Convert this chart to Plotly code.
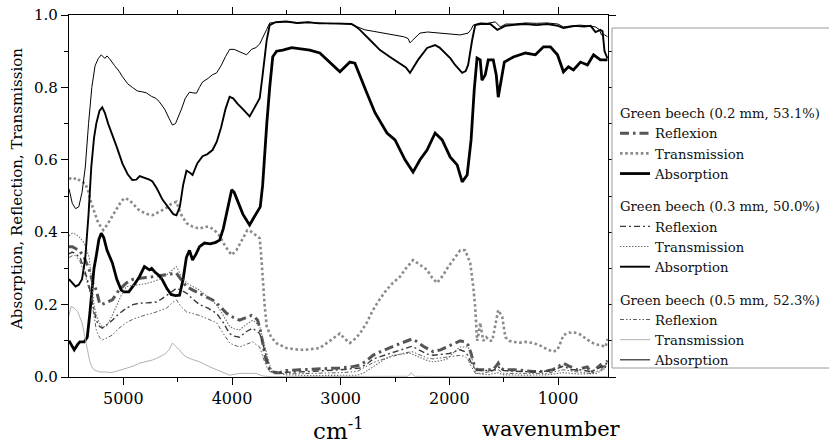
import plotly.graph_objects as go

# ---------------- data ----------------
# 0.2 mm
wn_r02 = [5500,5470,5440,5406,5360,5314,5280,5249,5220,5203,5160,5101,5040,4972,4910,4852,4790,4732,4670,4603,4550,4511,4470,4419,4360,4299,4240,4179,4110,4050,3990,3930,3870,3820,3790,3764,3740,3718,3690,3653,3600,3560,3500,3376,3200,3007,2900,2823,2760,2703,2620,2520,2430,2343,2300,2240,2150,2080,2020,1960,1900,1860,1827,1800,1780,1745,1700,1650,1600,1570,1550,1530,1500,1400,1300,1227,1140,1050,1000,950,900,820,770,730,700,660,610,580,560,545]
r02 = [0.36,0.36,0.355,0.35,0.33,0.296,0.26,0.24,0.205,0.20,0.205,0.213,0.24,0.26,0.27,0.273,0.275,0.277,0.28,0.282,0.285,0.287,0.27,0.25,0.24,0.232,0.222,0.213,0.195,0.176,0.165,0.157,0.165,0.17,0.165,0.157,0.13,0.094,0.05,0.02,0.012,0.012,0.018,0.02,0.022,0.025,0.028,0.033,0.045,0.06,0.072,0.083,0.095,0.105,0.098,0.085,0.07,0.075,0.083,0.093,0.10,0.097,0.088,0.065,0.04,0.02,0.02,0.022,0.02,0.03,0.038,0.025,0.02,0.02,0.017,0.015,0.015,0.02,0.028,0.038,0.03,0.02,0.025,0.028,0.012,0.02,0.033,0.02,0.04,0.045]

wn_t02 = [5500,5470,5430,5390,5350,5320,5295,5260,5230,5185,5150,5110,5060,5020,4990,4950,4900,4852,4825,4780,4732,4680,4640,4603,4560,4511,4470,4419,4360,4299,4250,4207,4160,4114,4060,4003,3960,3900,3860,3838,3800,3770,3745,3730,3718,3700,3681,3640,3588,3500,3376,3300,3192,3100,3050,3007,2960,2915,2870,2823,2760,2703,2640,2580,2520,2454,2400,2334,2270,2205,2160,2113,2060,2020,1960,1900,1855,1808,1780,1762,1745,1730,1716,1700,1688,1660,1630,1605,1570,1550,1530,1513,1485,1450,1411,1350,1300,1227,1150,1090,1042,1005,970,950,900,858,800,766,700,650,610,563,550,545]
t02 = [0.55,0.545,0.55,0.54,0.535,0.51,0.48,0.45,0.425,0.406,0.42,0.44,0.465,0.485,0.494,0.49,0.475,0.46,0.456,0.45,0.447,0.455,0.46,0.467,0.478,0.484,0.45,0.425,0.415,0.41,0.415,0.415,0.405,0.39,0.36,0.337,0.35,0.385,0.405,0.405,0.395,0.39,0.383,0.33,0.268,0.2,0.14,0.11,0.093,0.08,0.075,0.076,0.08,0.10,0.11,0.12,0.105,0.094,0.105,0.12,0.15,0.185,0.215,0.24,0.26,0.277,0.30,0.323,0.31,0.296,0.275,0.26,0.28,0.30,0.325,0.35,0.35,0.315,0.25,0.193,0.10,0.12,0.15,0.12,0.10,0.11,0.10,0.10,0.15,0.185,0.175,0.166,0.11,0.10,0.097,0.095,0.097,0.094,0.085,0.075,0.07,0.075,0.10,0.116,0.122,0.124,0.118,0.11,0.097,0.09,0.088,0.083,0.10,0.105]

wn_a02 = [5500,5475,5452,5420,5400,5360,5332,5310,5290,5270,5249,5225,5203,5180,5150,5101,5060,5020,4991,4950,4900,4852,4806,4780,4760,4740,4710,4670,4640,4600,4560,4520,4483,4450,4420,4391,4363,4330,4299,4253,4200,4150,4114,4080,4040,4003,3980,3940,3900,3860,3838,3800,3764,3740,3718,3699,3680,3653,3625,3590,3533,3450,3376,3284,3192,3100,3007,2960,2915,2869,2823,2760,2684,2574,2500,2408,2334,2270,2205,2131,2066,1993,1928,1882,1836,1800,1771,1745,1716,1700,1670,1642,1596,1568,1550,1522,1494,1411,1300,1208,1134,1070,1005,950,904,858,793,729,673,610,545]
a02 = [0.10,0.085,0.075,0.09,0.097,0.097,0.11,0.17,0.24,0.30,0.335,0.38,0.397,0.385,0.35,0.315,0.27,0.24,0.235,0.235,0.255,0.277,0.305,0.30,0.296,0.30,0.29,0.28,0.268,0.245,0.228,0.225,0.226,0.27,0.33,0.35,0.323,0.34,0.36,0.37,0.368,0.372,0.378,0.41,0.47,0.517,0.51,0.48,0.45,0.43,0.42,0.44,0.46,0.47,0.53,0.62,0.70,0.80,0.885,0.90,0.903,0.91,0.906,0.903,0.895,0.87,0.843,0.857,0.87,0.867,0.83,0.785,0.73,0.674,0.655,0.60,0.566,0.60,0.627,0.674,0.655,0.608,0.586,0.539,0.558,0.655,0.793,0.881,0.876,0.82,0.834,0.876,0.876,0.834,0.773,0.82,0.87,0.884,0.895,0.89,0.912,0.912,0.89,0.843,0.857,0.848,0.87,0.862,0.89,0.876,0.876]

# 0.3 mm
wn_r03 = [5500,5470,5440,5400,5360,5314,5280,5249,5220,5194,5150,5101,5040,4972,4910,4852,4770,4696,4650,4603,4550,4511,4470,4419,4360,4299,4220,4142,4080,4022,3980,3930,3870,3810,3780,3745,3710,3681,3650,3635,3500,3300,3100,3000,2823,2750,2700,2600,2500,2420,2343,2280,2200,2150,2080,2000,1950,1900,1860,1830,1800,1760,1700,1600,1550,1500,1400,1200,1050,950,880,800,700,620,560,545]
r03 = [0.34,0.345,0.34,0.33,0.30,0.25,0.20,0.157,0.14,0.135,0.145,0.157,0.175,0.19,0.20,0.204,0.205,0.207,0.215,0.226,0.237,0.245,0.24,0.232,0.215,0.20,0.19,0.176,0.15,0.12,0.113,0.11,0.125,0.135,0.128,0.12,0.085,0.055,0.02,0.014,0.013,0.015,0.018,0.02,0.025,0.038,0.05,0.06,0.07,0.078,0.085,0.075,0.063,0.06,0.062,0.065,0.07,0.075,0.07,0.06,0.04,0.02,0.018,0.018,0.028,0.018,0.016,0.014,0.018,0.03,0.02,0.02,0.015,0.025,0.035,0.04]

wn_t03 = [5500,5472,5440,5400,5360,5314,5290,5268,5240,5222,5190,5157,5110,5065,5020,4972,4910,4852,4790,4732,4670,4603,4550,4511,4470,4419,4360,4299,4220,4142,4080,4022,3980,3930,3870,3810,3780,3745,3710,3681,3650,3625,3500,3300,3000,2850,2795,2720,2638,2580,2520,2440,2362,2280,2200,2150,2080,2020,1960,1900,1827,1800,1780,1760,1745,1650,1550,1500,1300,1100,950,800,650,580,560,545]
t03 = [0.39,0.397,0.395,0.385,0.37,0.33,0.26,0.194,0.165,0.15,0.138,0.14,0.165,0.194,0.225,0.25,0.253,0.255,0.258,0.263,0.27,0.282,0.295,0.305,0.28,0.26,0.25,0.24,0.22,0.20,0.17,0.14,0.133,0.13,0.145,0.157,0.15,0.14,0.10,0.066,0.03,0.014,0.006,0.004,0.004,0.005,0.01,0.025,0.042,0.052,0.06,0.064,0.066,0.055,0.045,0.042,0.045,0.05,0.068,0.083,0.083,0.06,0.04,0.015,0.01,0.006,0.012,0.006,0.005,0.006,0.012,0.008,0.01,0.02,0.04,0.045]

wn_a03 = [5500,5470,5440,5410,5380,5350,5320,5295,5270,5249,5220,5194,5170,5140,5101,5060,5009,4960,4917,4880,4850,4800,4760,4732,4690,4640,4580,4540,4511,4480,4450,4419,4390,4363,4320,4271,4230,4179,4140,4100,4060,4022,3990,3950,3900,3838,3800,3770,3745,3720,3700,3681,3653,3600,3500,3400,3300,3200,3100,3000,2900,2870,2823,2730,2638,2546,2454,2400,2362,2330,2288,2205,2131,2090,2039,1990,1947,1910,1882,1850,1827,1790,1762,1716,1623,1559,1485,1400,1300,1200,1100,1000,950,840,760,700,655,610,590,572,545]
a03 = [0.27,0.26,0.25,0.255,0.27,0.33,0.45,0.58,0.66,0.70,0.735,0.745,0.73,0.70,0.67,0.635,0.59,0.56,0.544,0.545,0.555,0.55,0.545,0.54,0.52,0.49,0.465,0.45,0.447,0.47,0.53,0.57,0.565,0.558,0.59,0.61,0.615,0.627,0.65,0.69,0.74,0.774,0.77,0.755,0.74,0.72,0.74,0.755,0.77,0.83,0.89,0.93,0.972,0.98,0.982,0.978,0.98,0.977,0.977,0.975,0.975,0.97,0.959,0.931,0.903,0.884,0.867,0.855,0.84,0.855,0.876,0.909,0.917,0.91,0.895,0.88,0.862,0.85,0.84,0.845,0.862,0.931,0.972,0.975,0.975,0.959,0.97,0.973,0.975,0.972,0.975,0.97,0.964,0.97,0.968,0.97,0.953,0.959,0.955,0.90,0.88]

# 0.5 mm
wn_r05 = [5500,5470,5440,5400,5350,5295,5270,5249,5220,5194,5150,5101,5040,4972,4910,4852,4790,4732,4670,4603,4550,4511,4470,4419,4360,4299,4220,4142,4080,4022,3980,3930,3870,3810,3780,3745,3710,3681,3650,3600,3400,3200,3000,2850,2760,2700,2600,2500,2420,2343,2280,2200,2150,2050,1950,1900,1860,1830,1800,1760,1700,1550,1500,1300,1100,950,850,700,600,545]
r05 = [0.33,0.335,0.335,0.32,0.28,0.22,0.17,0.13,0.11,0.102,0.108,0.116,0.135,0.15,0.16,0.166,0.172,0.176,0.182,0.19,0.205,0.213,0.195,0.18,0.175,0.17,0.16,0.15,0.12,0.094,0.088,0.083,0.09,0.097,0.09,0.083,0.05,0.028,0.014,0.01,0.009,0.01,0.012,0.015,0.03,0.04,0.05,0.06,0.066,0.07,0.062,0.052,0.05,0.053,0.058,0.06,0.057,0.05,0.03,0.01,0.01,0.02,0.01,0.01,0.01,0.02,0.015,0.01,0.02,0.03]

wn_t05 = [5500,5480,5450,5420,5380,5350,5330,5310,5290,5270,5222,5160,5120,5060,5020,4972,4910,4852,4790,4732,4670,4620,4580,4548,4520,4483,4450,4419,4360,4299,4220,4142,4080,4022,3970,3930,3850,3780,3718,3650,3400,2500,2380,2350,2320,2000,1000,545]
t05 = [0.17,0.195,0.19,0.18,0.15,0.11,0.075,0.045,0.028,0.02,0.014,0.014,0.012,0.016,0.02,0.025,0.03,0.038,0.043,0.047,0.055,0.063,0.075,0.094,0.085,0.075,0.062,0.055,0.048,0.042,0.03,0.02,0.012,0.005,0.008,0.01,0.01,0.01,0.003,0.001,0.001,0.001,0.002,0.012,0.002,0.001,0.001,0.001]

wn_a05 = [5500,5470,5440,5410,5380,5350,5320,5290,5260,5230,5203,5170,5150,5129,5080,5040,5009,4960,4917,4870,4830,4788,4740,4700,4668,4620,4580,4548,4520,4490,4465,4430,4391,4360,4327,4300,4271,4220,4180,4142,4100,4060,4022,3980,3940,3900,3866,3820,3780,3745,3710,3681,3653,3600,3500,3400,3300,3200,3100,3000,2900,2869,2777,2700,2601,2500,2420,2380,2362,2340,2316,2270,2200,2085,2000,1900,1827,1800,1780,1716,1650,1577,1531,1480,1400,1300,1200,1100,1000,950,880,800,720,655,620,600,570,545]
a05 = [0.52,0.48,0.465,0.47,0.51,0.58,0.70,0.80,0.86,0.88,0.89,0.88,0.887,0.88,0.86,0.845,0.83,0.81,0.80,0.79,0.788,0.785,0.775,0.77,0.76,0.74,0.715,0.696,0.70,0.72,0.74,0.77,0.787,0.785,0.784,0.80,0.815,0.825,0.835,0.84,0.86,0.885,0.905,0.905,0.90,0.895,0.89,0.905,0.91,0.92,0.94,0.96,0.978,0.98,0.982,0.978,0.98,0.978,0.976,0.977,0.975,0.97,0.959,0.955,0.95,0.945,0.94,0.935,0.923,0.93,0.936,0.95,0.953,0.95,0.948,0.945,0.95,0.96,0.972,0.978,0.977,0.981,0.967,0.975,0.975,0.978,0.977,0.978,0.975,0.967,0.97,0.972,0.97,0.967,0.96,0.945,0.945,0.94]

group_titles = ["Green beech (0.2 mm, 53.1%)", "Green beech (0.3 mm, 50.0%)", "Green beech (0.5 mm, 52.3%)"]
item_names = ["Reflexion", "Transmission", "Absorption"]
x_ticks = [5000, 4000, 3000, 2000, 1000]

FONT = "DejaVu Serif"
LEG_SIZE = 13.2

series = [
    # group, name, x, y, color, width, dash
    (0, 0, wn_r02, r02, "#555555", 3.0, "9px,4px,2.5px,4px"),
    (0, 1, wn_t02, t02, "#8a8a8a", 2.6, "2.6px,2.6px"),
    (0, 2, wn_a02, a02, "#000000", 2.8, "solid"),
    (1, 0, wn_r03, r03, "#3a3a3a", 1.4, "6px,3px,2px,3px"),
    (1, 1, wn_t03, t03, "#6e6e6e", 1.1, "1.5px,1.5px"),
    (1, 2, wn_a03, a03, "#000000", 1.9, "solid"),
    (2, 0, wn_r05, r05, "#4a4a4a", 0.9, "4px,2px,1.5px,2px,1.5px,2px"),
    (2, 1, wn_t05, t05, "#a8a8a8", 0.9, "solid"),
    (2, 2, wn_a05, a05, "#000000", 1.0, "solid"),
]

fig = go.Figure()
for g, n, xs, ys, col, w, d in series:
    fig.add_trace(go.Scatter(
        x=xs, y=ys, mode="lines", name=item_names[n],
        line=dict(color=col, width=w, dash=d),
        legendgroup=f"g{g}",
        legendgrouptitle=dict(text=group_titles[g], font=dict(family=FONT, size=LEG_SIZE, color="#111")),
        showlegend=True,
    ))

L, R, T, B = 69, 608, 15, 377
W, H = 829, 444

def px_x(p):
    return (p - L) / (R - L)

def px_y(p):
    return (B - p) / (B - T)

fig.update_layout(
    width=W, height=H,
    margin=dict(l=L, r=W - R, t=T, b=H - B, pad=0, autoexpand=False),
    paper_bgcolor="white", plot_bgcolor="white",
    font=dict(family=FONT, size=15, color="black"),
    legend=dict(
        x=px_x(615), y=px_y(98), xanchor="left", yanchor="top",
        bgcolor="rgba(0,0,0,0)", borderwidth=0,
        font=dict(family=FONT, size=LEG_SIZE, color="#111"),
        traceorder="grouped", tracegroupgap=12.5,
        itemwidth=30,
    ),
    xaxis=dict(
        range=[5500, 540], showgrid=False, zeroline=False,
        tickmode="array", tickvals=x_ticks, ticktext=[str(v) for v in x_ticks],
        ticks="outside", ticklen=7, tickwidth=1.2, tickcolor="black",
        showline=True, linecolor="black", linewidth=1.3, mirror="allticks",
        tickfont=dict(family=FONT, size=16),
        minor=dict(tickmode="array", tickvals=[4500, 3500, 2500, 1500], ticks="outside", ticklen=4, tickwidth=1.1, tickcolor="black"),
    ),
    yaxis=dict(
        range=[0, 1.0], showgrid=False, zeroline=False,
        tick0=0, dtick=0.2, tickformat=".1f",
        ticks="outside", ticklen=7, tickwidth=1.2, tickcolor="black",
        showline=True, linecolor="black", linewidth=1.3, mirror="allticks",
        tickfont=dict(family=FONT, size=15),
        minor=dict(dtick=0.1, ticks="outside", ticklen=4, tickwidth=1.1, tickcolor="black"),
    ),
    shapes=[dict(
        type="rect", xref="paper", yref="paper", layer="above",
        x0=px_x(612), x1=px_x(840), y0=px_y(368), y1=px_y(28),
        line=dict(color="#9a9a9a", width=1), fillcolor="white",
    )],
    annotations=[
        dict(text="Absorption, Reflection, Transmission", textangle=-90,
             xref="paper", yref="paper", x=px_x(17), y=px_y(189),
             xanchor="center", yanchor="middle", showarrow=False,
             font=dict(family=FONT, size=15, color="black")),
        dict(text="cm<sup>-1</sup>", xref="paper", yref="paper",
             x=px_x(338), y=px_y(429), xanchor="center", yanchor="middle",
             showarrow=False, font=dict(family=FONT, size=23, color="black")),
        dict(text="wavenumber", xref="paper", yref="paper",
             x=px_x(551), y=px_y(429), xanchor="center", yanchor="middle",
             showarrow=False, font=dict(family=FONT, size=21, color="black")),
    ],
)

fig.write_html("out.html", config={"displayModeBar": False},
               post_script="document.body.style.margin='0';document.body.style.overflow='hidden';")
